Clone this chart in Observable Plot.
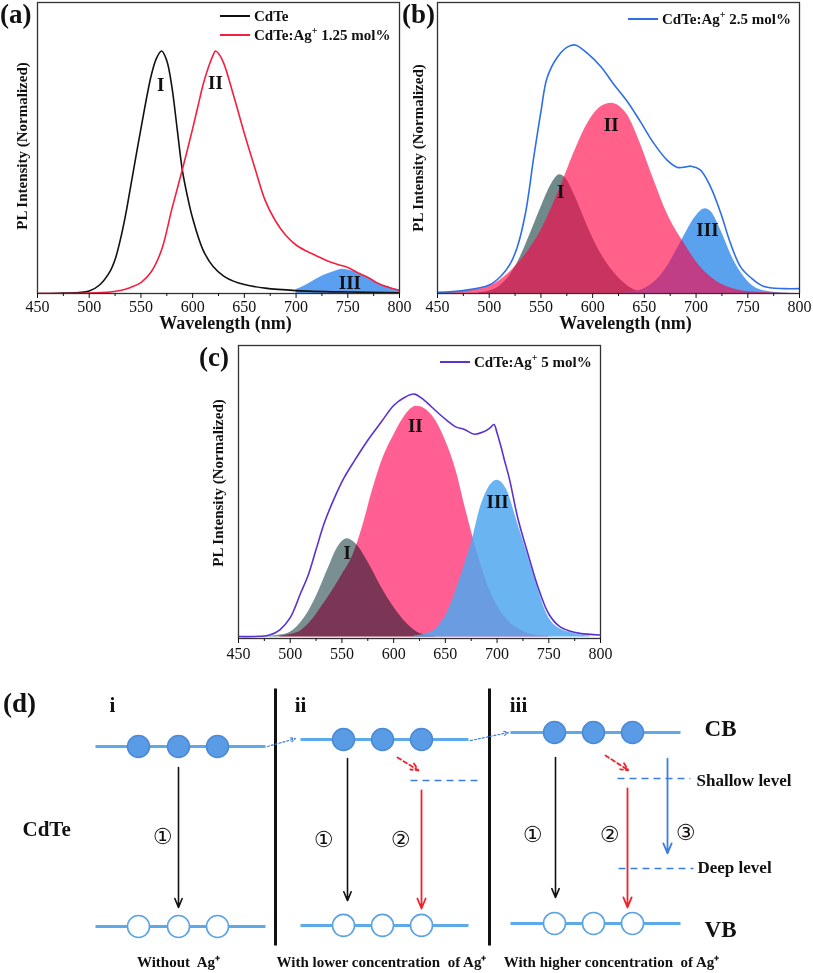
<!DOCTYPE html>
<html><head><meta charset="utf-8">
<script src="https://cdn.jsdelivr.net/npm/d3@7"></script>
<script src="https://cdn.jsdelivr.net/npm/@observablehq/plot@0.6"></script>
<style>
body{margin:0;background:#fff;}
#root{position:relative;width:813px;height:973px;overflow:hidden;font-family:"Liberation Serif","Times New Roman",serif;color:#111;}
.plab{position:absolute;font-weight:bold;font-size:27px;line-height:1;}
.leg{position:absolute;font-weight:bold;font-size:15px;height:16px;line-height:16px;white-space:nowrap;display:flex;align-items:center;}
.leg .ln{display:inline-block;width:30px;height:0;border-top:2px solid;margin-right:4px;}
.leg sup{font-size:10px;vertical-align:6px;line-height:0;}
svg{overflow:visible;}
</style></head>
<body><div id="root"></div>
<script>
// ---------------- DATA ----------------
const majorTicks = [450,500,550,600,650,700,750,800];
const minorTicks = [475,525,575,625,675,725,775];

// (a) CdTe
const aCdTeW = [450,470,490,500,510,520,525,530,535,540,550,560,565,570,575,580,585,590,595,600,610,620,630,640,650,670,700,750,800];
const aCdTeV = [0,0.001,0.004,0.01,0.035,0.09,0.14,0.22,0.32,0.44,0.68,0.9,0.97,1.0,0.96,0.85,0.68,0.51,0.4,0.31,0.18,0.11,0.072,0.05,0.037,0.022,0.012,0.006,0.003];
// (a) CdTe:Ag+ 1.25 mol%
const aAgW = [450,500,520,530,540,550,560,570,580,590,600,605,610,615,620,622,625,630,640,650,660,670,680,690,700,710,720,730,740,750,760,770,780,790,800];
const aAgV = [0,0.002,0.006,0.012,0.025,0.045,0.09,0.18,0.35,0.51,0.68,0.77,0.86,0.93,0.985,1.0,0.99,0.95,0.81,0.66,0.52,0.385,0.3,0.24,0.2,0.175,0.155,0.135,0.12,0.107,0.085,0.065,0.04,0.025,0.013];
// (a) peak III
const aIIIW = [700,710,720,730,740,745,750,760,770,780,790,800];
const aIIIV = [0.015,0.035,0.06,0.08,0.095,0.1,0.097,0.085,0.065,0.04,0.025,0.015];
const aLabels = [{w:569,v:0.86,t:"I"},{w:622,v:0.87,t:"II"},{w:752,v:0.045,t:"III"}];

// (b) CdTe:Ag+ 2.5 mol%
const bTotW = [450,475,500,511,520,527,535,543,550,556,566,575,583,595,608,620,633,646,659,672,682,690,695,704,714,724,733,743,753,765,785,800];
const bTotV = [0.005,0.012,0.035,0.07,0.12,0.19,0.33,0.56,0.75,0.89,0.975,1.015,1.025,0.99,0.935,0.865,0.795,0.71,0.62,0.55,0.52,0.522,0.525,0.51,0.44,0.33,0.21,0.11,0.065,0.03,0.02,0.02];
const bIW = [490,500,510,520,530,540,550,560,568,575,582,590,600,610,620,630,640,650];
const bIV = [0.003,0.01,0.03,0.075,0.15,0.25,0.355,0.45,0.49,0.47,0.41,0.33,0.23,0.15,0.09,0.045,0.015,0.004];
const bIIW = [450,475,500,525,550,569,582,595,608,618,633,646,659,672,688,704,720,736,750,770,800];
const bIIV = [0.003,0.01,0.03,0.11,0.26,0.44,0.58,0.7,0.77,0.785,0.74,0.62,0.47,0.33,0.21,0.11,0.05,0.02,0.008,0.003,0];
const bIIIW = [630,640,650,656,665,672,680,690,700,709,715,724,736,749,762,775,790];
const bIIIV = [0.002,0.008,0.02,0.035,0.07,0.11,0.17,0.25,0.32,0.35,0.335,0.26,0.14,0.055,0.015,0.005,0.001];
const bLabels = [{w:569,v:0.42,t:"I"},{w:618,v:0.695,t:"II"},{w:711,v:0.263,t:"III"}];

// (c) CdTe:Ag+ 5 mol%
const cTotW = [450,470,480,490,500,510,517,525,533,543,552,562,575,588,600,610,620,628,636,645,652,660,668,678,687,693,697,700,704,707,712,720,730,740,750,760,770,780,800];
const cTotV = [0.002,0.003,0.008,0.03,0.08,0.18,0.25,0.36,0.47,0.575,0.655,0.725,0.81,0.885,0.953,0.985,1.0,0.98,0.95,0.915,0.89,0.865,0.855,0.835,0.845,0.86,0.875,0.84,0.78,0.73,0.65,0.49,0.34,0.2,0.095,0.045,0.025,0.015,0.008];
const cIW = [470,480,490,500,514,525,536,546,555,565,575,588,600,613,623,632,640];
const cIV = [0.001,0.003,0.008,0.02,0.08,0.165,0.275,0.37,0.405,0.377,0.31,0.206,0.124,0.055,0.02,0.007,0.002];
const cIIW = [490,500,510,520,530,540,550,560,570,580,590,600,610,622,630,640,650,660,670,680,690,700,710,720,730,740,750];
const cIIV = [0.003,0.01,0.025,0.065,0.123,0.185,0.255,0.33,0.455,0.61,0.74,0.83,0.905,0.95,0.94,0.895,0.81,0.69,0.52,0.36,0.225,0.13,0.07,0.035,0.015,0.006,0.002];
const cIIIW = [620,630,640,645,650,658,668,676,684,690,700,710,719,729,739,748,758,774,790];
const cIIIV = [0.005,0.012,0.03,0.055,0.085,0.165,0.29,0.4,0.535,0.6,0.645,0.6,0.48,0.345,0.206,0.096,0.041,0.015,0.004];
const cLabels = [{w:555,v:0.345,t:"I"},{w:621,v:0.87,t:"II"},{w:700.5,v:0.555,t:"III"}];

// (d) schematic, diagram units: x across the figure, E = energy (VB of i = 0, CB of i = 1)
const bandLines = [
  {x1:95,x2:265,E:1.0},{x1:95,x2:265,E:0},
  {x1:300,x2:468,E:1.039},{x1:300,x2:468,E:0.006},
  {x1:510,x2:680,E:1.078},{x1:510,x2:680,E:0.017}];
const trapLines = [{x1:410,x2:482,E:0.811},{x1:617,x2:690,E:0.822},{x1:618,x2:693,E:0.322}];
const electrons = [{x:138,E:1.0},{x:178,E:1.0},{x:217,E:1.0},{x:343,E:1.039},{x:382,E:1.039},{x:421,E:1.039},{x:554,E:1.078},{x:593,E:1.078},{x:632,E:1.078}];
const holes = [{x:138,E:0},{x:178,E:0},{x:217,E:0},{x:343,E:0.006},{x:382,E:0.006},{x:421,E:0.006},{x:554,E:0.017},{x:593,E:0.017},{x:632,E:0.017}];
const bandTransitions = [{x:178,E1:0.883,E2:0.106},{x:347,E1:0.933,E2:0.144},{x:555,E1:0.939,E2:0.161}];
const shallowTransitions = [{x:421,E1:0.756,E2:0.1},{x:627,E1:0.767,E2:0.106}];
const deepTransitions = [{x:667,E1:0.933,E2:0.406}];
const captures = [{x1:397,E1:0.939,x2:418,E2:0.867},{x1:605,E1:0.95,x2:628,E2:0.867}];
const shifts = [{x1:267,E1:1.0,x2:295,E2:1.044},{x1:470,E1:1.033,x2:508,E2:1.078}];
const separators = [{x:275,E1:1.322,E2:-0.106},{x:489,E1:1.322,E2:-0.106}];
const sectionLabels = [{x:112,E:1.228,t:"i"},{x:300,E:1.228,t:"ii"},{x:518,E:1.228,t:"iii"}];
const pathLabels = [{x:162,E:0.5,t:"①"},{x:323,E:0.483,t:"①"},{x:400,E:0.483,t:"②"},{x:532,E:0.506,t:"①"},{x:609,E:0.506,t:"②"},{x:685,E:0.517,t:"③"}];
const bandNames = [{x:720,E:1.1,t:"CB"},{x:720,E:-0.017,t:"VB"}];
const levelNames = [{x:696,E:0.811,t:"Shallow level"},{x:697,E:0.328,t:"Deep level"}];
const materialName = [{x:22,E:0.539,t:"CdTe"}];
const caseNames = [{x:178,E:-0.2,t:"Without  Ag⁺"},{x:381,E:-0.2,t:"With lower concentration  of Ag⁺"},{x:611,E:-0.2,t:"With higher concentration  of Ag⁺"}];

// ---------------- DRAW ----------------
const root = document.getElementById("root");
const SERIF = "Liberation Serif, Times New Roman, serif";
const rows = (ws, vs) => ws.map((w, i) => ({w, v: vs[i]}));

function place(el, left, top) {
  el.style.position = "absolute";
  el.style.left = left + "px";
  el.style.top = top + "px";
  root.appendChild(el);
  return el;
}

function spectrum(o) {
  const marks = [];
  for (const a of o.areas) marks.push(Plot.areaY(rows(a.w, a.v), {x:"w", y:"v", fill:a.fill, fillOpacity:a.opacity ?? 1, curve:"monotone-x", clip:true}));
  for (const l of o.lines) marks.push(Plot.line(rows(l.w, l.v), {x:"w", y:"v", stroke:l.stroke, strokeWidth:1.6, curve:"catmull-rom", clip:true}));
  marks.push(Plot.text(o.labels, {x:"w", y:"v", text:"t", fontSize:19, fontWeight:"bold", fill:"#111"}));
  marks.push(Plot.frame({stroke:"#333", strokeWidth:1.3}));
  marks.push(Plot.axisX({ticks:majorTicks, tickSize:5, tickPadding:o.tickPad, fontSize:16, tickFormat:d => String(d), label:null}));
  marks.push(Plot.axisX({ticks:minorTicks, tickSize:3, tickFormat:() => "", label:null}));
  marks.push(Plot.text(["PL Intensity (Normalized)"], {text:d => d, frameAnchor:"left", textAnchor:"middle", lineAnchor:"middle", rotate:-90, dx:o.yLabDx, dy:o.yLabDy, fontSize:15, fontWeight:"bold", fill:"#111"}));
  if (o.xTitle) marks.push(Plot.text([o.xTitle], {text:d => d, frameAnchor:"bottom", textAnchor:"middle", lineAnchor:"middle", dy:30, dx:7, fontSize:18, fontWeight:"bold", fill:"#111"}));
  const svg = Plot.plot({
    width:o.width, height:o.height,
    marginLeft:o.mL, marginRight:o.mR, marginTop:o.mT, marginBottom:o.mB,
    x:{domain:[450, 800]},
    y:{domain:o.yDomain, axis:null},
    style:{fontFamily:SERIF, background:"transparent", overflow:"visible", color:"#111"},
    marks
  });
  // blend modes for overlapping fitted peaks
  const areaGroups = svg.querySelectorAll('g[aria-label="area"]');
  o.areas.forEach((a, i) => { if (a.blend && areaGroups[i]) areaGroups[i].style.mixBlendMode = a.blend; });
  return svg;
}

function legend(left, top, color, html) {
  const d = document.createElement("div");
  d.className = "leg";
  d.innerHTML = `<span class="ln" style="border-color:${color}"></span><span>${html}</span>`;
  place(d, left, top - 8);
}
function panelLabel(text, left, top) {
  const d = document.createElement("div");
  d.className = "plab";
  d.textContent = text;
  place(d, left, top);
}

// (a)
place(spectrum({
  width:410, height:330, mL:37, mR:11, mT:2, mB:37, tickPad:2, yDomain:[0, 1.2],
  yLabDx:-15, yLabDy:-2, xTitle:"Wavelength (nm)",
  areas:[{w:aIIIW, v:aIIIV, fill:"#5b9ff0"}],
  lines:[{w:aCdTeW, v:aCdTeV, stroke:"#111"}, {w:aAgW, v:aAgV, stroke:"#f5203f"}],
  labels:aLabels
}), 0, 0);

// (b)
place(spectrum({
  width:410, height:330, mL:37, mR:11, mT:2, mB:37, tickPad:2, yDomain:[0, 1.2],
  yLabDx:-19, yLabDy:0, xTitle:"Wavelength (nm)",
  areas:[{w:bIW, v:bIV, fill:"#708a8c"}, {w:bIIIW, v:bIIIV, fill:"#5aa2ee"}, {w:bIIW, v:bIIV, fill:"#ff0044", opacity:0.62}],
  lines:[{w:bTotW, v:bTotV, stroke:"#2e6fe6"}],
  labels:bLabels
}), 400, 0);

// (c)
place(spectrum({
  width:411, height:320, mL:38, mR:11, mT:5, mB:22, tickPad:4, yDomain:[-0.006, 1.2],
  yLabDx:-20, yLabDy:-9, xTitle:null,
  areas:[{w:cIIW, v:cIIV, fill:"#ff5f92"}, {w:cIW, v:cIV, fill:"#7a8f92", blend:"multiply"}, {w:cIIIW, v:cIIIV, fill:"#50a7f0", opacity:0.85}],
  lines:[{w:cTotW, v:cTotV, stroke:"#5b32d2"}],
  labels:cLabels
}), 200, 340);

// legends & panel labels
legend(220, 16, "#111", "CdTe");
legend(220, 35, "#f5203f", "CdTe:Ag<sup>+</sup> 1.25 mol%");
legend(628, 19, "#2e6fe6", "CdTe:Ag<sup>+</sup> 2.5 mol%");
legend(440, 362, "#5b32d2", "CdTe:Ag<sup>+</sup> 5 mol%");
panelLabel("(a)", 0, 1);
panelLabel("(b)", 402, 1);
panelLabel("(c)", 199, 344);
panelLabel("(d)", 3, 690);

// (d)
const BAND = "#5eaae8", DASH = "#3d7ee6", RED = "#f0232d";
const txt = {fontFamily:SERIF, fontWeight:"bold", fill:"#111"};
place(Plot.plot({
  width:813, height:303, margin:0,
  x:{domain:[0, 813], axis:null},
  y:{domain:[-47/180, 256/180], axis:null},
  style:{fontFamily:SERIF, background:"transparent", overflow:"visible"},
  marks:[
    Plot.link(bandLines, {x1:"x1", x2:"x2", y1:"E", y2:"E", stroke:BAND, strokeWidth:3}),
    Plot.link(trapLines, {x1:"x1", x2:"x2", y1:"E", y2:"E", stroke:DASH, strokeWidth:1.6, strokeDasharray:"7,5"}),
    Plot.link(separators, {x1:"x", x2:"x", y1:"E1", y2:"E2", stroke:"#111", strokeWidth:3}),
    Plot.dot(electrons, {x:"x", y:"E", r:11, fill:"#5a9be6", stroke:"#4a89d6", strokeWidth:1.5}),
    Plot.dot(holes, {x:"x", y:"E", r:11, fill:"white", stroke:"#5ba3e3", strokeWidth:1.6}),
    Plot.arrow(bandTransitions, {x1:"x", x2:"x", y1:"E1", y2:"E2", stroke:"#111", strokeWidth:1.6, headLength:9, headAngle:45}),
    Plot.arrow(shallowTransitions, {x1:"x", x2:"x", y1:"E1", y2:"E2", stroke:RED, strokeWidth:1.8, headLength:9, headAngle:45}),
    Plot.arrow(deepTransitions, {x1:"x", x2:"x", y1:"E1", y2:"E2", stroke:DASH, strokeWidth:1.8, headLength:9, headAngle:45}),
    Plot.arrow(captures, {x1:"x1", x2:"x2", y1:"E1", y2:"E2", stroke:RED, strokeWidth:1.8, strokeDasharray:"4,3", headLength:7, headAngle:50}),
    Plot.arrow(shifts, {x1:"x1", x2:"x2", y1:"E1", y2:"E2", stroke:DASH, strokeWidth:1.2, strokeDasharray:"2,2", headLength:6, headAngle:50}),
    Plot.text(sectionLabels, {x:"x", y:"E", text:"t", fontSize:21, ...txt}),
    Plot.text(pathLabels, {x:"x", y:"E", text:"t", fontSize:22, fontFamily:"DejaVu Sans, Noto Sans CJK JP, sans-serif", fill:"#111"}),
    Plot.text(bandNames, {x:"x", y:"E", text:"t", fontSize:23, ...txt}),
    Plot.text(levelNames, {x:"x", y:"E", text:"t", fontSize:17, textAnchor:"start", ...txt}),
    Plot.text(materialName, {x:"x", y:"E", text:"t", fontSize:21, textAnchor:"start", ...txt}),
    Plot.text(caseNames, {x:"x", y:"E", text:"t", fontSize:15, ...txt})
  ]
}), 0, 670);
</script>
</body></html>
